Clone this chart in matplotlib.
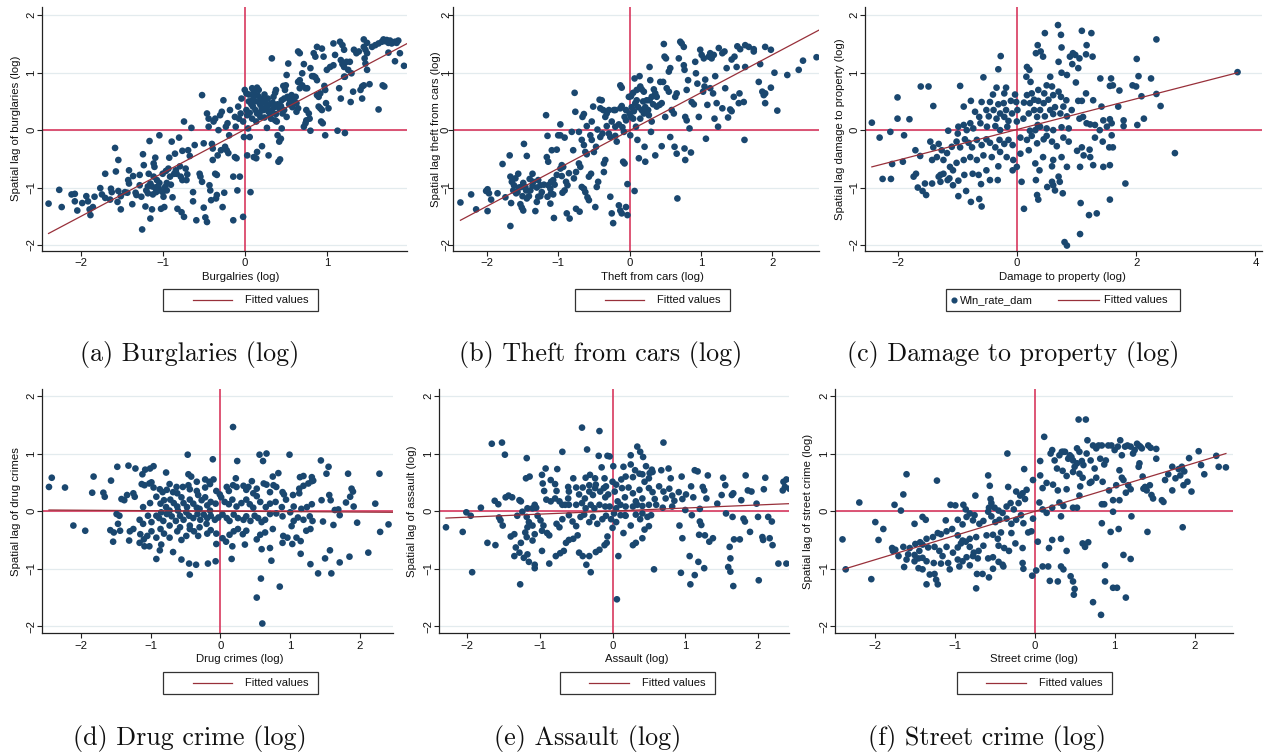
import numpy as np
import matplotlib
matplotlib.use('Agg')
import matplotlib.pyplot as plt
from matplotlib.patches import Rectangle
from matplotlib.lines import Line2D

# ---------------- data ----------------
burg = [(-2.39,-1.28),(-2.26,-1.04),(-2.23,-1.34),(-2.11,-1.12),(-2.07,-1.11),(-2.07,-1.24),(-2.04,-1.40),(-1.98,-1.27),(-1.93,-1.15),(-1.91,-1.24),(-1.89,-1.38),(-1.88,-1.48),(-1.85,-1.34),(-1.83,-1.16),(-1.76,-1.01),(-1.74,-1.12),(-1.70,-0.76),(-1.70,-1.18),(-1.64,-1.21),(-1.63,-1.02),(-1.62,-1.08),(-1.58,-0.31),(-1.57,-0.72),(-1.55,-1.25),(-1.54,-0.52),(-1.54,-1.06),(-1.51,-1.15),(-1.51,-1.38),(-1.46,-1.08),(-1.43,-1.09),(-1.42,-0.87),(-1.41,-0.93),(-1.41,-0.70),(-1.37,-1.29),(-1.36,-0.80),(-1.33,-1.09),(-1.32,-1.13),(-1.28,-0.78),(-1.28,-0.96),(-1.26,-1.16),(-1.25,-1.73),(-1.24,-0.42),(-1.23,-0.61),(-1.21,-1.33),(-1.20,-1.05),(-1.18,-1.10),(-1.17,-0.76),(-1.16,-0.19),(-1.15,-0.93),(-1.13,-0.98),(-1.15,-1.54),(-1.13,-1.38),(-1.11,-0.58),(-1.10,-0.64),(-1.11,-0.81),(-1.09,-1.01),(-1.08,-1.08),(-1.07,-0.99),(-1.09,-0.48),(-1.07,-0.87),(-1.04,-0.92),(-1.04,-0.09),(-1.03,-1.05),(-1.02,-1.37),(-1.00,-0.76),(-0.99,-1.16),(-0.98,-1.34),(-0.97,-0.99),(-0.95,-0.92),(-0.96,-0.71),(-0.93,-0.67),(-0.92,-0.48),(-0.91,-0.81),(-0.89,-0.20),(-0.88,-1.17),(-0.86,-0.76),(-0.85,-0.41),(-0.84,-0.70),(-0.83,-0.76),(-0.82,-1.37),(-0.80,-0.13),(-0.79,-0.63),(-0.78,-0.81),(-0.76,-0.87),(-0.77,-1.43),(-0.74,-1.51),(-0.76,-0.36),(-0.74,0.15),(-0.72,-0.67),(-0.71,-0.87),(-0.70,-0.77),(-0.69,-0.35),(-0.67,-0.45),(-0.65,0.04),(-0.63,-1.08),(-0.63,-1.24),(-0.61,-0.26),(-0.59,-1.57),(-0.55,-0.76),(-0.54,-0.81),(-0.52,-0.90),(-0.52,0.61),(-0.50,-1.35),(-0.48,-1.52),(-0.46,-1.60),(-0.50,-0.23),(-0.46,0.29),(-0.44,0.20),(-0.44,0.06),(-0.43,-0.96),(-0.42,-1.05),(-0.41,-1.22),(-0.40,-0.24),(-0.39,-0.32),(-0.39,-0.52),(-0.38,0.15),(-0.36,0.20),(-0.36,-0.76),(-0.34,-0.78),(-0.35,-1.19),(-0.34,-1.13),(-0.33,-0.44),(-0.32,0.00),(-0.30,0.26),(-0.28,0.32),(-0.29,-0.35),(-0.27,-1.34),(-0.26,0.52),(-0.25,-1.09),(-0.24,-0.29),(-0.22,-0.35),(-0.20,-0.40),(-0.23,0.06),(-0.21,0.12),(-0.19,-0.09),(-0.18,0.35),(-0.14,-1.57),(-0.14,-0.81),(-0.12,-0.47),(-0.10,-0.49),(-0.12,0.23),(-0.11,0.06),(-0.09,-1.05),(-0.06,-0.81),(-0.08,0.41),(-0.07,0.20),(-0.05,0.29),(-0.04,0.55),(-0.02,0.15),(-0.02,-1.51),(-0.01,-0.12),(0.00,0.70),(0.02,0.64),(0.02,0.35),(0.03,0.26),(0.03,-0.44),(0.04,0.03),(0.06,-0.12),(0.07,-1.08),(0.09,0.52),(0.11,0.58),(0.13,0.61),(0.09,0.73),(0.11,0.67),(0.15,0.74),(0.17,0.70),(0.10,0.41),(0.13,0.35),(0.15,0.29),(0.11,-0.47),(0.14,-0.49),(0.15,-0.38),(0.17,0.49),(0.19,0.44),(0.21,0.38),(0.23,0.35),(0.19,0.23),(0.21,-0.28),(0.23,0.52),(0.25,0.47),(0.27,0.41),(0.27,0.04),(0.29,-0.44),(0.29,0.32),(0.31,0.26),(0.33,0.35),(0.33,1.25),(0.35,0.58),(0.37,0.65),(0.38,0.70),(0.37,0.17),(0.39,0.15),(0.40,-0.09),(0.41,-0.55),(0.43,-0.51),(0.42,-0.20),(0.44,-0.15),(0.45,0.03),(0.45,0.52),(0.47,0.77),(0.49,0.70),(0.50,0.78),(0.46,0.29),(0.48,0.35),(0.51,0.23),(0.51,0.96),(0.53,1.16),(0.52,0.58),(0.55,0.52),(0.57,0.61),(0.59,0.52),(0.61,0.47),(0.63,0.47),(0.63,0.32),(0.65,0.38),(0.65,1.37),(0.67,1.34),(0.65,0.84),(0.67,0.87),(0.67,0.73),(0.70,0.78),(0.70,0.99),(0.72,0.06),(0.74,0.12),(0.75,0.17),(0.72,1.15),(0.74,0.73),(0.76,0.73),(0.75,0.35),(0.78,0.29),(0.79,0.20),(0.80,1.08),(0.80,-0.01),(0.82,0.94),(0.84,0.94),(0.86,0.92),(0.84,1.34),(0.86,1.28),(0.88,1.45),(0.88,0.87),(0.88,0.61),(0.90,0.58),(0.92,0.64),(0.90,0.41),(0.92,0.38),(0.94,0.35),(0.93,0.15),(0.95,0.12),(0.94,1.42),(0.96,1.28),(0.97,0.77),(0.98,0.70),(0.98,-0.09),(0.99,0.47),(1.02,0.38),(1.00,1.05),(1.04,1.10),(1.08,1.13),(1.08,1.51),(1.10,1.31),(1.13,-0.01),(1.15,0.73),(1.16,1.54),(1.19,1.48),(1.21,1.40),(1.17,1.22),(1.19,1.15),(1.21,1.10),(1.17,0.55),(1.21,0.93),(1.22,0.93),(1.22,-0.05),(1.24,1.19),(1.26,1.05),(1.28,1.19),(1.29,0.49),(1.30,0.99),(1.32,0.67),(1.33,1.40),(1.36,1.34),(1.39,1.37),(1.41,0.70),(1.43,0.76),(1.45,0.78),(1.43,0.55),(1.45,1.45),(1.47,1.40),(1.49,1.34),(1.45,1.58),(1.49,1.52),(1.46,1.25),(1.47,1.16),(1.49,1.05),(1.52,0.80),(1.55,1.45),(1.59,1.48),(1.63,1.51),(1.63,0.36),(1.67,1.54),(1.69,1.58),(1.71,1.55),(1.73,1.57),(1.75,1.52),(1.77,1.56),(1.79,1.51),(1.81,1.53),(1.83,1.54),(1.85,1.52),(1.87,1.56),(1.68,0.78),(1.70,0.76),(1.75,1.35),(1.83,1.20),(1.89,1.34),(1.94,1.12),
(0.05,0.62),(0.08,0.45),(0.12,0.50),(0.16,0.60),(0.20,0.55),(0.24,0.62),(0.28,0.55),(0.30,0.45),(0.34,0.48),(0.36,0.40),(0.40,0.45),(0.42,0.38),(0.06,0.30),(0.09,0.20),(0.14,0.15),(0.18,0.30),(0.24,0.22),(0.32,0.20),(0.38,0.28),(0.44,0.42),(0.48,0.55),(0.54,0.45),(0.58,0.40),(0.62,0.58),(0.05,0.50),(-1.05,-1.00),(-1.00,-1.08),(-1.12,-1.12),(-0.95,-1.05),(-1.18,-0.98),(-0.90,-0.95)]

theft = [(-2.37,-1.26),(-2.22,-1.12),(-2.15,-1.38),(-2.01,-1.06),(-1.99,-1.03),(-1.97,-1.10),(-1.94,-1.21),(-1.99,-1.41),(-1.85,-1.10),(-1.78,-0.59),(-1.74,-1.17),(-1.68,-0.44),(-1.67,-0.81),(-1.65,-0.90),(-1.62,-0.96),(-1.60,-0.84),(-1.67,-1.67),(-1.66,-1.27),(-1.63,-1.05),(-1.59,-1.10),(-1.57,-1.08),(-1.56,-0.76),(-1.53,-1.29),(-1.51,-1.35),(-1.49,-1.40),(-1.52,-0.99),(-1.49,-0.92),(-1.46,-0.99),(-1.48,-0.24),(-1.44,-0.45),(-1.44,-1.19),(-1.41,-1.15),(-1.39,-1.05),(-1.36,-0.97),(-1.35,-0.90),(-1.36,-0.76),(-1.32,-1.41),(-1.30,-1.25),(-1.28,-1.16),(-1.28,-0.87),(-1.25,-0.96),(-1.23,-1.08),(-1.17,0.26),(-1.16,-0.47),(-1.14,-0.55),(-1.15,-0.10),(-1.15,-1.16),(-1.11,-1.28),(-1.14,-0.96),(-1.11,-1.02),(-1.10,-0.90),(-1.09,-0.35),(-1.07,-1.12),(-1.06,-1.53),(-1.07,-0.87),(-1.02,-0.78),(-1.02,-0.34),(-1.00,-0.09),(-0.97,-0.09),(-0.97,0.10),(-0.97,-0.67),(-0.95,-0.61),(-0.93,-0.64),(-0.94,-1.09),(-0.91,-1.05),(-0.91,-0.13),(-0.89,-0.90),(-0.87,-0.96),(-0.88,-1.45),(-0.84,-1.54),(-0.81,-0.03),(-0.79,-0.35),(-0.78,-0.84),(-0.75,-0.73),(-0.77,0.65),(-0.76,0.32),(-0.75,-1.37),(-0.71,-0.58),(-0.69,-0.64),(-0.71,-0.03),(-0.70,-1.42),(-0.67,-0.99),(-0.64,-1.02),(-0.62,-1.08),(-0.67,-0.17),(-0.64,-0.26),(-0.66,0.23),(-0.64,0.28),(-0.62,-0.38),(-0.60,-0.42),(-0.60,0.07),(-0.59,-1.17),(-0.57,-1.22),(-0.57,-0.81),(-0.54,-0.76),(-0.55,-0.09),(-0.53,-0.17),(-0.53,0.15),(-0.51,0.41),(-0.50,-0.38),(-0.47,-0.29),(-0.48,-1.34),(-0.46,-0.99),(-0.44,-0.90),(-0.45,0.01),(-0.42,0.53),(-0.39,0.52),(-0.41,0.38),(-0.37,0.35),(-0.41,-0.12),(-0.38,-0.06),(-0.36,-0.58),(-0.34,-0.52),(-0.36,-0.73),(-0.34,0.23),(-0.32,0.29),(-0.29,0.35),(-0.32,0.07),(-0.29,-0.06),(-0.27,-0.12),(-0.27,-1.16),(-0.25,-1.45),(-0.23,-1.62),(-0.22,0.35),(-0.20,0.35),(-0.20,0.06),(-0.18,-0.20),(-0.15,-1.31),(-0.13,-1.40),(-0.11,-1.45),(-0.13,0.78),(-0.11,0.74),(-0.13,0.38),(-0.11,0.42),(-0.09,-0.55),(-0.07,-0.58),(-0.08,-0.03),(-0.07,0.23),(-0.05,0.17),(-0.05,-1.34),(-0.03,-1.48),(-0.03,-0.94),(-0.01,0.58),(0.02,0.59),(0.00,0.29),(0.02,0.23),(0.05,0.20),(0.01,-0.09),(0.07,0.90),(0.07,-1.06),(0.08,0.47),(0.10,0.52),(0.09,0.06),(0.11,-0.17),(0.13,-0.49),(0.14,0.94),(0.15,0.76),(0.17,0.71),(0.20,0.67),(0.17,0.35),(0.20,0.29),(0.21,-0.29),(0.22,-0.55),(0.24,0.52),(0.28,0.52),(0.31,0.58),(0.27,0.26),(0.28,1.10),(0.29,0.87),(0.30,-0.03),(0.31,0.15),(0.34,0.71),(0.36,0.64),(0.38,0.58),(0.36,-0.44),(0.38,0.41),(0.42,0.44),(0.45,0.47),(0.43,0.84),(0.47,0.84),(0.45,-0.28),(0.48,1.50),(0.49,1.28),(0.51,1.25),(0.50,0.23),(0.52,0.73),(0.55,0.67),(0.55,1.02),(0.57,1.08),(0.57,-0.12),(0.59,0.35),(0.62,0.29),(0.63,-0.29),(0.66,-0.41),(0.64,0.58),(0.66,0.64),(0.67,-1.19),(0.69,1.25),(0.71,1.54),(0.73,1.51),(0.76,1.45),(0.76,1.13),(0.77,1.05),(0.77,-0.32),(0.78,-0.52),(0.78,0.23),(0.80,0.17),(0.80,0.70),(0.82,0.87),(0.84,0.03),(0.86,-0.39),(0.87,0.49),(0.90,0.45),(0.92,1.19),(0.93,0.99),(0.95,0.81),(0.97,0.23),(0.99,1.40),(1.01,1.31),(1.04,1.25),(1.03,0.67),(1.05,0.76),(1.06,0.88),(1.07,-0.15),(1.09,0.44),(1.11,1.28),(1.13,1.34),(1.15,1.25),(1.18,1.31),(1.13,0.73),(1.17,0.64),(1.19,0.20),(1.20,0.94),(1.22,0.47),(1.24,0.06),(1.25,1.43),(1.30,1.34),(1.33,1.37),(1.30,0.38),(1.34,0.73),(1.36,1.08),(1.38,0.22),(1.41,0.36),(1.43,0.33),(1.43,1.23),(1.47,1.28),(1.46,0.58),(1.50,1.10),(1.51,1.46),(1.55,1.41),(1.53,0.47),(1.54,0.64),(1.60,0.49),(1.61,-0.17),(1.62,1.48),(1.67,1.45),(1.74,1.41),(1.62,1.10),(1.74,1.37),(1.81,0.84),(1.83,1.15),(1.86,0.67),(1.88,0.61),(1.90,0.64),(1.90,1.45),(1.90,0.47),(1.98,1.40),(1.98,0.74),(2.03,1.00),(2.07,0.34),(2.21,0.96),(2.37,1.05),(2.43,1.21),(2.62,1.27),
(0.03,0.40),(0.06,0.33),(0.12,0.40),(0.15,0.20),(0.19,0.50),(0.22,0.40),(0.26,0.35),(0.33,0.45),(0.05,0.65),(0.10,0.70),(-0.05,0.35),(-0.15,0.10),(-0.10,0.05),(-0.20,-0.10),(-0.25,0.15),(-1.55,-1.00),(-1.45,-1.05),(-1.40,-0.85),(-1.30,-1.00),(-1.20,-0.95),(-1.10,-1.10),(-1.05,-0.95),(-1.50,-1.15),(-1.25,-1.15),(-0.95,-0.80),(-0.85,-0.75)]

damage = [(-2.43,0.13),(-2.30,-0.13),(-2.25,-0.85),(-2.11,-0.85),(-1.66,-1.00),(-1.58,-1.06),(-1.54,-0.93),(-1.52,-1.13),(-1.42,-0.93),(-1.73,-0.81),(-1.69,-0.76),(-1.31,-0.81),(-1.28,-0.78),(-1.23,-0.76),(-1.28,-0.90),(-1.16,-0.87),(-1.13,-0.84),(-1.07,-0.96),(-1.07,-0.70),(-0.98,-0.88),(-0.98,-1.15),(-0.88,-0.78),(-0.85,-1.06),(-0.77,-1.25),(-0.74,-0.76),(-0.64,-0.78),(-0.63,-1.20),(-0.60,-0.94),(-0.59,-1.33),(-0.51,-0.70),(-0.45,-0.87),(-0.32,-0.87),(-0.07,-0.70),(0.08,-0.90),(0.12,-1.37),(0.32,-0.87),(0.34,-1.13),(0.36,-1.21),(0.38,-0.70),(0.47,1.69),(0.32,1.34),(0.35,1.48),(0.40,1.37),(0.44,1.28),(0.51,-0.99),(0.59,-0.90),(0.61,-0.96),(0.64,-1.05),(0.69,1.83),(0.70,-0.81),(0.72,-0.90),(0.74,1.66),(0.75,1.44),(0.77,-1.10),(0.80,-1.95),(0.84,-2.01),(0.89,1.28),(0.94,1.34),(0.98,1.31),(1.05,1.25),(1.06,-1.81),(1.07,-1.27),(1.09,1.73),(1.16,1.32),(1.17,1.48),(1.21,-1.48),(1.25,1.69),(1.27,1.28),(1.34,-1.45),(1.56,-1.21),(1.56,-0.61),(1.58,0.90),(1.61,0.78),(1.59,0.12),(1.59,-0.09),(1.61,-0.30),(1.70,0.41),(1.72,0.69),(1.79,0.17),(1.79,0.07),(1.82,-0.93),(1.94,0.78),(2.00,0.76),(2.01,1.24),(2.02,0.09),(2.04,0.94),(2.09,0.59),(2.13,0.20),(2.25,0.90),(2.34,1.58),(2.34,0.63),(2.41,0.42),(2.65,-0.40),(3.70,1.01),(-0.27,1.29),(0.21,1.05),
(-0.31,1.06),(-0.56,0.92),(-0.95,0.77),(-1.61,0.76),(-1.48,0.76),(-2.00,0.57),(-1.40,0.42),(-2.00,0.20),(-1.80,0.19),(-2.12,-0.03),(-1.89,-0.09),(-1.70,-0.35),(-2.09,-0.59),(-1.91,-0.55),(-0.34,0.74),(-0.18,0.74),(-0.40,0.62),(-0.21,0.64),(-0.03,0.62),(-0.77,0.51),(-0.59,0.49),(-0.45,0.49),(-0.89,0.41),(-0.70,0.32),(-0.51,0.35),(-0.31,0.45),(-0.22,0.47),(-0.10,0.51),(-0.01,0.49),(0.01,0.35),(-0.39,0.35),(-0.28,0.29),(-0.18,0.35),(-0.08,0.29),(-0.63,0.23),(-0.47,0.24),(-0.34,0.20),(-0.21,0.23),(-0.14,0.16),(0.00,0.15),(-0.61,0.12),(-0.78,0.12),(-0.89,0.09),(-0.98,0.06),(-1.15,-0.01),(-0.99,-0.06),(-0.84,0.00),(-0.73,0.03),(-0.50,0.06),(-0.36,0.07),(-0.28,0.00),(-0.16,0.06),
(0.17,1.10),(0.16,0.93),(0.23,0.84),(0.70,1.19),(0.84,0.96),(0.93,1.15),(1.03,1.08),(0.75,1.00),(0.56,0.93),(0.50,0.78),(0.59,0.76),(0.46,0.64),(0.36,0.70),(0.25,0.64),(0.17,0.61),(0.29,0.53),(0.12,0.48),(0.22,0.47),(0.36,0.51),(0.45,0.47),(0.53,0.53),(0.61,0.61),(0.70,0.67),(0.74,0.58),(0.83,0.52),(0.78,0.41),(0.64,0.40),(0.56,0.35),(0.39,0.35),(0.29,0.35),(0.20,0.29),(0.34,0.23),(0.47,0.24),(0.61,0.28),(0.73,0.29),(0.84,0.24),(0.92,0.35),(1.03,0.51),(1.09,0.51),(0.99,0.83),(1.16,0.64),(1.40,0.90),(1.56,0.77),(1.28,0.52),(1.42,0.41),(1.39,0.00),(1.17,0.12),(1.11,0.23),(1.05,0.20),(1.23,0.10),(1.31,0.09),(1.45,0.17),(1.56,0.19),(1.51,0.06),(0.87,0.03),(0.75,0.05),(0.61,0.00),(0.50,0.03),(0.39,0.06),(0.31,0.00),(0.22,-0.01),(0.11,0.20),(0.35,0.09),
(-1.45,-0.20),(-1.40,-0.30),(-1.31,-0.24),(-1.26,-0.35),(-1.17,-0.40),(-1.09,-0.29),(-1.01,-0.20),(-0.95,-0.30),(-0.87,-0.16),(-0.81,-0.22),(-0.75,-0.30),(-0.67,-0.17),(-0.59,-0.26),(-0.51,-0.16),(-0.45,-0.22),(-0.36,-0.30),(-0.29,-0.17),(-0.21,-0.24),(-0.14,-0.17),(-0.07,-0.26),(0.06,-0.13),(0.17,-0.17),(0.25,-0.10),(0.34,-0.23),(0.45,-0.16),(0.50,-0.10),(0.59,-0.20),(0.67,-0.28),(0.78,-0.13),(0.87,-0.20),(1.01,-0.36),(1.09,-0.30),(1.22,-0.34),(1.31,-0.13),(1.44,-0.20),(1.55,-0.30),(1.23,-0.47),(1.12,-0.44),(0.75,-0.47),(0.61,-0.52),(0.44,-0.47),(0.20,-0.35),(0.06,-0.41),(-0.06,-0.52),(-0.17,-0.47),(-0.28,-0.38),(-0.42,-0.47),(-0.56,-0.44),(-0.67,-0.52),(-0.78,-0.47),(-0.89,-0.52),(-1.01,-0.57),(-1.12,-0.64),(-1.23,-0.52),(-1.34,-0.47),(-1.42,-0.52),(-1.62,-0.45),(-0.31,-0.63),(0.00,-0.64),(0.31,-0.58),(0.59,-0.63),(0.84,-0.64),(1.06,-0.64),(1.28,-0.61),(1.45,-0.64)]

drug = [(-2.46,0.42),(-2.42,0.58),(-2.23,0.41),(-2.11,-0.25),(-1.94,-0.34),(-0.47,0.98),(-0.44,-1.10),(0.18,1.46),(0.52,-1.50),(0.56,0.98),(0.58,-1.17),(0.60,-1.95),(0.66,1.00),(0.85,-1.31),(0.99,0.98),(1.40,-1.08),(1.44,0.88),(1.45,0.19),(1.47,-0.18),(1.50,-0.82),(1.52,0.65),(1.55,0.77),(1.56,0.28),(1.58,0.19),(1.57,-0.68),(1.59,-1.08),(1.62,-0.24),(1.64,0.02),(1.69,0.03),(1.71,-0.89),(1.71,-0.07),(1.80,0.15),(1.83,0.65),(1.85,-0.79),(1.86,0.25),(1.88,0.39),(1.90,0.34),(1.91,0.08),(1.96,-0.20),(2.12,-0.72),(2.22,0.13),(2.28,0.65),(2.29,-0.36),(2.41,-0.23),
(-1.82,0.60),(-1.57,0.53),(-1.48,0.77),(-1.32,0.79),(-1.22,0.74),(-1.12,0.64),(-1.08,0.72),(-1.01,0.74),(-0.96,0.78),(-0.78,0.67),(-0.46,0.64),(-0.42,0.60),(-0.22,0.55),(-0.16,0.51),(-0.10,0.55),(-0.11,0.90),(0.24,0.87),(0.22,0.57),(0.40,0.42),(0.45,0.52),(0.61,0.87),(0.62,0.48),(0.75,0.60),(0.83,0.66),(0.76,0.45),(1.14,0.59),(1.19,0.61),(1.31,0.59),(1.33,0.53),
(-1.84,0.32),(-1.68,0.32),(-1.66,0.25),(-1.42,0.21),(-1.38,0.19),(-1.34,0.28),(-1.25,0.31),(-1.23,0.25),(-1.13,0.47),(-1.09,0.45),(-1.02,0.48),(-0.99,0.50),(-0.96,0.41),(-0.87,0.38),(-0.83,0.33),(-0.73,0.47),(-0.77,0.37),(-0.68,0.33),(-0.62,0.31),(-0.54,0.42),(-0.46,0.45),(-0.44,0.38),(-0.34,0.35),(-0.32,0.28),(-0.22,0.41),(-0.15,0.47),(-0.06,0.35),(-0.01,0.29),(0.09,0.42),(0.12,0.35),(0.18,0.45),(0.23,0.42),(0.33,0.44),(0.37,0.37),(0.47,0.31),(0.52,0.39),(0.66,0.46),(0.71,0.33),(0.80,0.42),(0.89,0.33),(0.91,0.29),(1.04,0.28),(1.13,0.39),(1.13,0.31),(1.19,0.44),(1.26,0.48),(1.31,0.52),
(-1.11,0.07),(-1.01,0.14),(-0.92,0.25),(-0.86,0.13),(-0.81,0.19),(-0.78,0.07),(-0.72,0.20),(-0.67,0.14),(-0.62,0.08),(-0.56,0.24),(-0.53,0.14),(-0.48,0.07),(-0.44,0.20),(-0.39,0.13),(-0.34,0.06),(-0.27,0.19),(-0.22,0.24),(-0.19,0.10),(-0.14,0.16),(-0.07,0.13),(0.01,0.24),(0.06,0.16),(0.12,0.12),(0.17,0.20),(0.23,0.08),(0.30,0.14),(0.37,0.20),(0.42,0.12),(0.47,0.06),(0.52,0.26),(0.57,0.16),(0.65,0.07),(0.71,0.13),(0.79,0.16),(0.88,0.07),(0.94,0.20),(1.05,0.08),(1.16,0.04),(1.24,0.07),(1.31,0.12),
(-1.49,-0.05),(-1.45,-0.08),(-1.16,-0.15),(-1.11,-0.22),(-1.04,-0.08),(-0.99,-0.19),(-0.92,-0.08),(-0.88,-0.12),(-0.82,-0.17),(-0.77,-0.05),(-0.70,-0.09),(-0.64,-0.17),(-0.58,-0.08),(-0.53,-0.15),(-0.45,-0.08),(-0.39,-0.12),(-0.33,-0.05),(-0.29,-0.15),(-0.24,-0.06),(-0.19,-0.12),(-0.14,-0.08),(-0.08,-0.15),(-0.03,-0.11),(0.03,-0.06),(0.09,-0.12),(0.13,-0.17),(0.19,-0.06),(0.25,-0.12),(0.33,-0.15),(0.37,-0.09),(0.43,-0.17),(0.49,-0.08),(0.54,-0.12),(0.59,-0.19),(0.64,-0.15),(0.71,-0.05),(0.80,-0.04),(0.89,-0.09),(1.00,-0.02),(1.05,-0.17),(1.11,-0.11),(1.19,-0.15),(1.28,-0.09),(1.32,-0.17),
(-1.58,-0.33),(-1.53,-0.37),(-1.44,-0.34),(-1.47,-0.22),(-1.30,-0.35),(-1.25,-0.31),(-1.15,-0.40),(-1.10,-0.49),(-1.05,-0.43),(-0.99,-0.35),(-0.92,-0.46),(-0.86,-0.31),(-0.81,-0.39),(-0.73,-0.46),(-0.62,-0.35),(-0.56,-0.50),(-0.49,-0.43),(-0.44,-0.31),(-0.38,-0.35),(-0.32,-0.43),(-0.19,-0.39),(-0.14,-0.33),(-0.06,-0.39),(0.03,-0.47),(0.08,-0.53),(0.13,-0.41),(0.19,-0.35),(0.25,-0.31),(0.32,-0.40),(0.37,-0.34),(0.52,-0.49),(0.57,-0.41),(0.64,-0.37),(0.75,-0.31),(0.90,-0.43),(0.96,-0.46),(1.02,-0.26),(1.09,-0.46),(1.15,-0.52),(1.23,-0.34),(1.29,-0.31),
(-1.54,-0.53),(-1.31,-0.51),(-1.16,-0.55),(-1.09,-0.61),(-1.02,-0.61),(-0.87,-0.68),(-0.85,-0.58),(-0.68,-0.71),(-0.56,-0.84),(-0.45,-0.91),(-0.35,-0.93),(-0.18,-0.91),(-0.07,-0.87),(-0.06,-0.57),(0.16,-0.83),(0.17,-0.61),(0.35,-0.58),(0.59,-0.66),(0.71,-0.64),(0.73,-0.86),(0.89,-0.55),(1.03,-0.57),(1.15,-0.74),(1.29,-0.92),(-0.92,-0.83),
(-0.61,0.01),(-0.49,-0.02),(-0.30,0.04),(-0.15,0.01),(-0.73,0.01),(-0.85,-0.02),(-0.44,-0.25),(-0.58,-0.28),(-0.73,-0.25),(-0.30,-0.28),(-0.20,-0.22),(-0.63,0.42),(-0.34,0.51)]

assault = [(-2.29,-0.28),(-2.06,-0.36),(-2.01,-0.02),(-1.93,-1.06),(-1.66,1.17),(-1.52,1.19),(-1.48,0.98),(-1.27,-1.27),(-1.07,-0.99),(-0.69,1.03),(-0.42,1.45),(-0.35,1.07),(-0.30,-1.06),(-0.18,1.39),(0.06,-1.53),(0.34,1.12),(0.38,1.03),(0.57,-1.01),(0.70,1.19),(0.94,-1.07),(1.07,-1.27),(1.13,-1.11),(1.18,-0.88),(1.17,0.69),(-0.04,0.95),
(1.20,-0.18),(1.22,-0.24),(1.24,0.42),(1.26,0.36),(1.26,-0.99),(1.27,-0.42),(1.29,0.22),(1.31,0.62),(1.33,-0.53),(1.38,-0.47),(1.44,0.13),(1.50,0.28),(1.52,0.58),(1.55,0.45),(1.56,-0.04),(1.59,-0.97),(1.61,-0.62),(1.62,-0.82),(1.62,-1.05),(1.64,0.28),(1.66,0.31),(1.65,-0.10),(1.66,-1.30),(1.67,-0.49),(1.75,-0.49),(1.77,0.19),(1.80,-0.13),(1.82,-0.18),(1.83,0.62),(1.86,0.36),(1.89,-0.36),(1.91,0.34),(1.98,0.13),(2.00,-0.10),(2.01,-1.20),(2.06,-0.45),(2.07,-0.50),(2.08,0.38),(2.10,0.58),(2.14,-0.10),(2.16,-0.47),(2.19,-0.18),(2.20,-0.59),(2.28,-0.91),(2.34,0.36),(2.37,0.42),(2.35,0.51),(2.39,0.55),(2.39,-0.91),(2.43,0.39),
(-1.18,0.92),(-0.19,0.96),(-0.07,0.96),(0.25,0.97),(0.42,0.94),(-0.15,0.76),(0.01,0.78),(0.15,0.77),(0.25,0.81),(0.31,0.71),(0.46,0.78),(0.54,0.72),(0.51,0.66),(0.67,0.71),(0.77,0.74),(0.80,0.57),(0.95,0.60),(1.13,0.71),(-0.92,0.74),(-0.76,0.73),(-0.97,0.63),(-1.19,0.57),(-1.14,0.60),(-0.85,0.54),(-0.96,0.48),(-0.79,0.47),(-0.54,0.57),(-0.37,0.58),(-0.31,0.63),(-0.24,0.57),(-0.32,0.45),(-0.23,0.46),(-0.11,0.57),(-0.09,0.43),(0.00,0.51),(0.05,0.46),(0.12,0.55),(0.18,0.60),(0.28,0.59),(0.37,0.65),(0.41,0.64),(0.44,0.51),(0.50,0.57),(0.55,0.68),
(-0.94,0.35),(-0.77,0.35),(-0.61,0.42),(-0.60,0.34),(-0.61,0.22),(-0.65,0.11),(-0.50,0.41),(-0.46,0.29),(-0.41,0.41),(-0.38,0.22),(-0.32,0.34),(-0.27,0.28),(-0.24,0.40),(-0.17,0.34),(-0.12,0.40),(-0.10,0.24),(-0.06,0.29),(0.03,0.34),(0.07,0.17),(0.13,0.40),(0.17,0.24),(0.22,0.41),(0.28,0.31),(0.32,0.17),(0.37,0.37),(0.41,0.22),(0.50,0.40),(0.55,0.33),(0.58,0.21),(0.64,0.43),(0.70,0.34),(0.73,0.22),(0.78,0.39),(0.82,0.27),(0.85,0.18),(0.91,0.33),(0.96,0.21),(1.01,0.29),(1.08,0.43),(1.11,0.24),(-1.47,0.24),(-1.43,0.27),(-1.38,0.24),(-1.28,0.19),(-1.26,0.17),(-1.62,0.18),(-1.57,0.12),(-0.91,0.20),(-0.85,0.17),(-0.79,0.22),(-0.73,0.17),(-0.69,0.11),(-1.07,0.11),(-1.05,0.06),(-1.17,0.05),(-1.10,0.05),(-0.60,0.11),(-0.50,0.11),(-0.42,0.14),(-0.37,0.05),(-0.30,0.11),(-0.25,0.05),(-0.18,0.11),(-0.10,0.08),(-0.04,0.08),(0.05,0.05),(0.11,0.11),(0.18,0.08),(0.28,0.08),(0.34,0.11),(0.41,0.09),(0.50,0.11),(0.60,0.11),(0.69,0.06),(0.82,0.08),
(-1.95,-0.08),(-1.81,0.06),(-1.56,-0.11),(-1.54,-0.16),(-1.51,-0.25),(-1.31,-0.08),(-1.24,-0.01),(-1.18,-0.10),(-1.15,-0.19),(-1.10,-0.25),(-1.17,-0.28),(-1.03,-0.08),(-0.99,-0.16),(-0.95,-0.25),(-0.90,-0.38),(-0.87,-0.42),(-0.97,-0.34),(-1.07,-0.40),(-1.10,-0.51),(-1.18,-0.45),(-1.20,-0.37),(-1.40,-0.44),(-1.35,-0.40),(-1.26,-0.55),(-1.33,-0.63),(-1.35,-0.78),(-1.28,-0.72),(-1.22,-0.81),(-1.17,-0.75),(-1.15,-0.88),(-1.07,-0.93),(-0.97,-0.69),(-0.87,-0.91),(-0.78,-0.78),(-0.72,-0.73),(-0.67,-0.69),(-0.64,-0.55),(-0.60,-0.50),(-0.54,-0.48),(-0.48,-0.42),(-0.46,-0.72),(-0.41,-0.78),(-0.36,-0.93),(-0.32,-0.78),(-0.23,-0.71),(-0.18,-0.67),(-0.11,-0.59),(-0.08,-0.55),(-0.07,-0.44),(0.00,-0.29),(0.05,-0.19),(-0.77,-0.22),(-0.73,-0.28),(-0.69,-0.14),(-0.60,-0.07),(-0.55,-0.18),(-0.50,-0.26),(-0.44,-0.10),(-0.39,-0.06),(-0.32,-0.19),(-0.27,-0.10),(-0.21,-0.22),(-0.14,-0.14),(-0.09,-0.08),(-0.02,-0.14),(0.02,-0.04),(0.11,-0.07),(0.18,-0.08),(0.25,-0.25),(0.32,-0.06),(0.38,-0.14),(0.41,-0.04),(0.48,-0.10),(0.53,-0.07),(0.44,-0.32),(0.41,-0.47),(0.32,-0.55),(0.28,-0.59),(0.50,-0.26),(0.15,-0.38),(0.08,-0.78),(0.17,-0.07),(-1.72,-0.55),(-1.61,-0.59),(0.92,-0.25),(0.96,-0.47),(1.06,-0.78),(1.19,-0.41),(1.09,-0.07),(1.00,0.02),(1.20,0.04)]

street = [(-2.40,-0.49),(-2.36,-1.01),(-0.34,1.00),(-0.13,0.73),(0.07,0.87),(0.07,0.62),(0.12,1.29),(0.20,1.00),(0.22,1.06),(0.25,0.88),(0.28,0.74),(0.31,0.97),(0.34,1.03),(0.36,1.03),(0.38,1.03),(0.42,0.91),(0.44,0.97),(0.46,0.94),(0.48,0.88),(0.49,-1.45),(0.50,-1.35),(0.50,0.77),(0.53,0.83),(0.53,1.09),(0.56,1.03),(0.55,1.59),(0.59,0.87),(0.61,0.80),(0.64,1.59),(0.65,1.00),(0.66,1.23),(0.73,-1.58),
(0.70,0.88),(0.71,0.51),(0.73,1.14),(0.77,1.09),(0.75,0.74),(0.77,0.58),(0.80,1.14),(0.84,1.14),(0.82,0.91),(0.83,-1.80),(0.84,0.12),(0.87,0.12),(0.84,-0.21),(0.85,0.51),(0.87,0.81),(0.88,-0.94),(0.88,-1.22),(0.89,0.88),(0.92,1.14),(0.96,1.14),(0.93,0.36),(0.95,-0.36),(0.98,0.19),(0.98,-0.01),(0.98,-1.33),(1.03,-1.33),(1.00,1.06),(1.04,1.12),(1.02,0.45),(1.05,-0.31),(1.06,0.71),(1.06,0.19),(1.07,1.23),(1.09,0.97),(1.09,0.58),(1.11,0.54),(1.11,-0.76),(1.13,1.12),(1.16,1.14),(1.20,1.12),(1.14,0.32),(1.14,-1.50),(1.17,0.45),(1.20,0.38),(1.20,-0.83),(1.21,-0.09),(1.23,1.00),(1.25,1.06),(1.28,1.17),(1.30,1.14),(1.30,0.77),(1.31,0.83),(1.32,1.12),(1.34,1.09),(1.35,0.60),(1.36,0.39),(1.38,0.42),(1.40,0.36),(1.41,-0.36),(1.42,1.14),(1.45,1.10),(1.44,0.45),(1.46,0.28),(1.48,0.22),(1.52,1.08),(1.52,0.91),(1.59,0.19),(1.61,0.16),(1.63,0.54),(1.67,0.64),(1.72,0.77),(1.72,0.36),(1.76,0.57),(1.80,0.73),(1.82,0.62),(1.84,0.77),(1.87,0.69),(1.85,-0.28),(1.86,0.45),(1.91,0.51),(1.93,0.92),(1.96,0.34),(2.05,1.04),(2.08,0.80),(2.12,0.64),(2.27,0.96),(2.30,0.77),(2.39,0.76),
(-1.60,0.64),(-1.22,0.53),(-1.64,0.29),(-1.75,0.11),(-1.67,0.01),(-2.19,0.15),(-1.99,-0.19),(-1.89,-0.31),(-1.95,-0.50),(-2.04,-1.18),(-1.50,-0.22),(-1.40,-0.10),(-1.36,-0.15),(-1.11,-0.16),(-1.05,0.11),(-0.99,0.10),(-0.89,0.11),(-0.86,0.03),(-0.81,-0.04),(-0.75,-0.07),(-0.74,0.27),(-0.58,0.62),(-0.56,0.44),(-0.55,0.21),(-0.57,0.06),(-0.54,0.14),(-0.50,0.06),(-0.45,0.01),(-0.40,-0.03),(-0.35,0.08),(-0.30,0.14),(-0.26,0.03),(-0.23,0.34),(-0.18,0.27),(-0.15,0.31),(-0.10,0.37),(-0.12,0.21),(-0.20,0.14),(-0.33,0.42),(-0.02,0.54),(0.06,0.15),(0.10,0.03),(0.15,-0.03),(0.22,0.06),(0.31,0.15),(0.36,0.09),(0.33,-0.09),(0.48,0.06),(0.53,0.06),(0.56,0.27),(0.57,0.43),(0.40,0.38),(0.10,0.40),(0.15,0.49),(0.23,0.46),(0.29,0.36),(0.40,0.61),(0.48,0.68),(0.56,0.65),(0.35,0.70),(0.60,0.58),(0.69,0.49),
(-0.96,-0.15),(-0.90,-0.23),(-0.85,-0.10),(-0.77,-0.16),(-0.69,-0.22),(-0.64,-0.17),(-0.58,-0.01),(-0.54,-0.09),(-0.49,-0.19),(-0.44,-0.15),(-0.35,-0.13),(-0.29,-0.22),(-0.23,-0.15),(-0.17,-0.07),(-0.14,-0.21),(-0.08,-0.37),(-0.04,-0.35),(-0.02,-0.13),(-0.29,-0.38),(-0.42,-0.37),(-0.52,-0.41),(-0.60,-0.42),(-0.73,-0.45),(-0.81,-0.48),(-0.90,-0.51),(-0.96,-0.42),(-1.03,-0.31),(-1.10,-0.35),(-1.17,-0.40),(-1.21,-0.38),(-1.27,-0.45),(-1.35,-0.48),(-1.43,-0.54),(-1.49,-0.57),(-1.56,-0.64),(-1.64,-0.62),(-1.74,-0.67),(-1.77,-0.69),(-1.78,-0.64),(-1.70,-0.78),(-1.60,-0.84),(-1.50,-0.76),(-1.44,-0.69),(-1.40,-0.58),(-1.33,-0.63),(-1.25,-0.62),(-1.19,-0.69),(-1.15,-0.78),(-1.10,-0.62),(-1.02,-0.72),(-0.96,-0.63),(-0.92,-0.56),(-0.86,-0.53),(-0.81,-0.62),(-0.76,-0.72),(-0.70,-0.69),(-0.64,-0.60),(-0.58,-0.82),(-0.52,-0.80),(-0.45,-0.88),(-0.39,-0.96),(-0.46,-0.48),(-0.45,-0.60),(-0.38,-0.64),(-0.32,-0.69),(-0.24,-0.56),(-0.15,-0.64),(-0.96,-0.84),(-0.90,-0.87),(-0.85,-0.80),(-0.77,-0.78),(-0.71,-0.82),(-1.08,-0.90),(-1.17,-0.91),(-1.26,-0.90),(-1.35,-0.87),(-1.40,-0.81),(-1.45,-0.82),(-1.50,-0.87),(-1.58,-0.75),(-1.63,-0.97),(-1.45,-0.99),(-1.40,-1.01),(-1.31,-1.10),(-1.25,-1.09),(-1.23,-1.19),(-1.06,-1.01),(-0.94,-0.96),(-0.81,-0.94),(-0.72,-1.09),(-0.65,-1.09),(-0.57,-1.15),(-0.73,-1.34),(-1.21,-1.27),(-1.35,-1.27),(-0.52,-1.00),(-0.40,-0.93),(-0.15,-0.90),(-0.14,-1.00),(0.02,-1.03),(-0.03,-1.12),(0.10,-0.96),(0.17,-0.96),(0.33,-0.96),(0.36,-1.01),(0.45,-1.13),(0.48,-1.22),(0.19,-1.21),(0.29,-1.22),(0.04,-0.53),(0.18,-0.64),(0.22,-0.50),(0.40,-0.69),(0.60,-0.56),(0.63,-0.62),(0.67,-0.54),(0.33,-0.48)]

# fitted-value lines (end points)
fit_burg_x, fit_burg_y = [-2.39, 1.98], [-1.80, 1.51]
fit_theft_x, fit_theft_y = [-2.37, 2.65], [-1.57, 1.74]
fit_damage_x, fit_damage_y = [-2.43, 3.70], [-0.64, 1.00]
fit_drug_x, fit_drug_y = [-2.46, 2.47], [0.02, -0.02]
fit_assault_x, fit_assault_y = [-2.29, 2.43], [-0.12, 0.13]
fit_street_x, fit_street_y = [-2.39, 2.39], [-1.01, 1.00]

x_labels = ["Burgalries (log)", "Theft from cars (log)", "Damage to property (log)",
            "Drug crimes (log)", "Assault (log)", "Street crime (log)"]
y_labels = ["Spatial lag of burglaries (log)", "Spatial lag theft from cars (log)",
            "Spatial lag damage to property (log)", "Spatial lag of drug crimes",
            "Spatial lag of assault (log)", "Spatial lag of street crime (log)"]
captions = ["(a) Burglaries (log)", "(b) Theft from cars (log)", "(c) Damage to property (log)",
            "(d) Drug crime (log)", "(e) Assault (log)", "(f) Street crime (log)"]
series = [burg, theft, damage, drug, assault, street]
fits = [(fit_burg_x, fit_burg_y), (fit_theft_x, fit_theft_y), (fit_damage_x, fit_damage_y),
        (fit_drug_x, fit_drug_y), (fit_assault_x, fit_assault_y), (fit_street_x, fit_street_y)]
y_ticks = [-2, -1, 0, 1, 2]
x_ticks = [[-2, -1, 0, 1], [-2, -1, 0, 1, 2], [-2, 0, 2, 4],
           [-2, -1, 0, 1, 2], [-2, -1, 0, 1, 2], [-2, -1, 0, 1, 2]]

# ---------------- layout (pixels) ----------------
W, H = 1274, 756
plt.rcParams['font.family'] = ['Liberation Sans', 'DejaVu Sans']
fig = plt.figure(figsize=(W / 100, H / 100), dpi=100)

NAVY = '#1a476f'
MAROON = '#98303a'
REFRED = '#d8385e'
GRID = '#e3ebee'
SPINE = '#222222'
FS = 8.2

top_row = (6.7, 250.7)
bot_row = (389.0, 633.3)
panels = [
    dict(L=42.0, R=407.3, row=top_row, xlim=(-2.47, 1.98), ylim=(-2.10, 2.15),
         xlab_cx=240.5, ylab_dx=-26.3, tick_dx=-12.0,
         leg=(163.3, 318.3), cap=(190, 355)),
    dict(L=453.3, R=818.7, row=top_row, xlim=(-2.47, 2.65), ylim=(-2.10, 2.15),
         xlab_cx=652.5, ylab_dx=-17.6, tick_dx=-8.8,
         leg=(575.3, 730.3), cap=(601, 355)),
    dict(L=864.7, R=1262.0, row=top_row, xlim=(-2.55, 4.11), ylim=(-2.10, 2.15),
         xlab_cx=1062.5, ylab_dx=-24.7, tick_dx=-12.0,
         leg=(946.0, 1180.0), cap=(1013, 355)),
    dict(L=42.0, R=392.7, row=bot_row, xlim=(-2.56, 2.47), ylim=(-2.12, 2.12),
         xlab_cx=240.0, ylab_dx=-26.3, tick_dx=-12.0,
         leg=(163.3, 318.3), cap=(190, 738)),
    dict(L=438.7, R=789.3, row=bot_row, xlim=(-2.39, 2.43), ylim=(-2.12, 2.12),
         xlab_cx=637.0, ylab_dx=-26.3, tick_dx=-12.0,
         leg=(560.0, 715.0), cap=(588, 738)),
    dict(L=835.3, R=1232.7, row=bot_row, xlim=(-2.49, 2.475), ylim=(-2.12, 2.12),
         xlab_cx=1034.0, ylab_dx=-27.0, tick_dx=-12.6,
         leg=(957.0, 1112.0), cap=(987, 738)),
]

def fx(px):
    return px / W

def fy(py):
    return 1 - py / H

for i, p in enumerate(panels):
    T, B = p['row']
    L, R = p['L'], p['R']
    ax = fig.add_axes([fx(L), fy(B), (R - L) / W, (B - T) / H])
    ax.set_xlim(*p['xlim'])
    ax.set_ylim(*p['ylim'])
    ax.set_yticks(y_ticks)
    ax.set_xticks(x_ticks[i])
    ax.yaxis.grid(True, color=GRID, lw=0.9, zorder=0)
    ax.set_axisbelow(True)
    for s in ('top', 'right'):
        ax.spines[s].set_visible(False)
    for s in ('left', 'bottom'):
        ax.spines[s].set_color(SPINE)
        ax.spines[s].set_linewidth(0.9)

    # reference lines at zero
    ax.axhline(0, color=REFRED, lw=1.2, zorder=1)
    ax.axvline(0, color=REFRED, lw=1.2, zorder=1)

    xs, ys = np.array(series[i]).T
    ax.scatter(xs, ys, s=23, color=NAVY, edgecolors='none', zorder=2)
    fxv, fyv = fits[i]
    ax.plot(fxv, fyv, color=MAROON, lw=0.9, zorder=3)

    ax.tick_params(axis='both', direction='out', length=3.4, width=0.8,
                   color=SPINE, labelsize=FS, labelcolor='#111111')
    ax.tick_params(axis='x', pad=2.0)
    h_px = (B - T)
    tick_pad_px = -p['tick_dx'] - 4.7 - 6.5
    ax.tick_params(axis='y', labelrotation=90, pad=max(tick_pad_px, -4) / 1.389)
    for lab in ax.get_yticklabels():
        lab.set_va('center')

    ax.set_xlabel(x_labels[i], fontsize=FS, color='#111111')
    ax.xaxis.label.set_va('center')
    ax.xaxis.set_label_coords((p['xlab_cx'] - L) / (R - L), -26.0 / h_px)
    ax.set_ylabel(y_labels[i], fontsize=FS, color='#111111')
    ax.yaxis.label.set_va('center')
    ax.yaxis.set_label_coords(p['ylab_dx'] / (R - L), 0.5)

    # legend box (drawn like Stata's)
    lx0, lx1 = p['leg']
    ly0 = B + 38.6
    ly1 = ly0 + 21.7
    lyc = (ly0 + ly1) / 2
    fig.add_artist(Rectangle((fx(lx0), fy(ly1)), (lx1 - lx0) / W, (ly1 - ly0) / H,
                             transform=fig.transFigure, facecolor='white',
                             edgecolor='#333333', lw=0.9))
    if i == 2:
        fig.add_artist(Line2D([fx(lx0 + 8.3)], [fy(lyc)], transform=fig.transFigure,
                              marker='o', ms=3.4, color=NAVY, lw=0))
        fig.text(fx(lx0 + 14.0), fy(lyc), "Wln_rate_dam", fontsize=FS - 0.2,
                 ha='left', va='center', color='#111111')
        fig.add_artist(Line2D([fx(lx0 + 112.3), fx(lx0 + 153.0)], [fy(lyc), fy(lyc)],
                              transform=fig.transFigure, color=MAROON, lw=0.9))
        fig.text(fx(lx0 + 158.0), fy(lyc), "Fitted values", fontsize=FS - 0.2,
                 ha='left', va='center', color='#111111')
    else:
        fig.add_artist(Line2D([fx(lx0 + 29.4), fx(lx0 + 69.0)], [fy(lyc), fy(lyc)],
                              transform=fig.transFigure, color=MAROON, lw=0.9))
        fig.text(fx(lx0 + 81.7), fy(lyc), "Fitted values", fontsize=FS - 0.2,
                 ha='left', va='center', color='#111111')

    cx, cy = p['cap']
    fig.text(fx(cx), fy(cy), captions[i], family='cmr10', fontsize=18.7,
             ha='center', va='center', color='#111111')

fig.savefig('out.png', dpi=100, facecolor='white')
